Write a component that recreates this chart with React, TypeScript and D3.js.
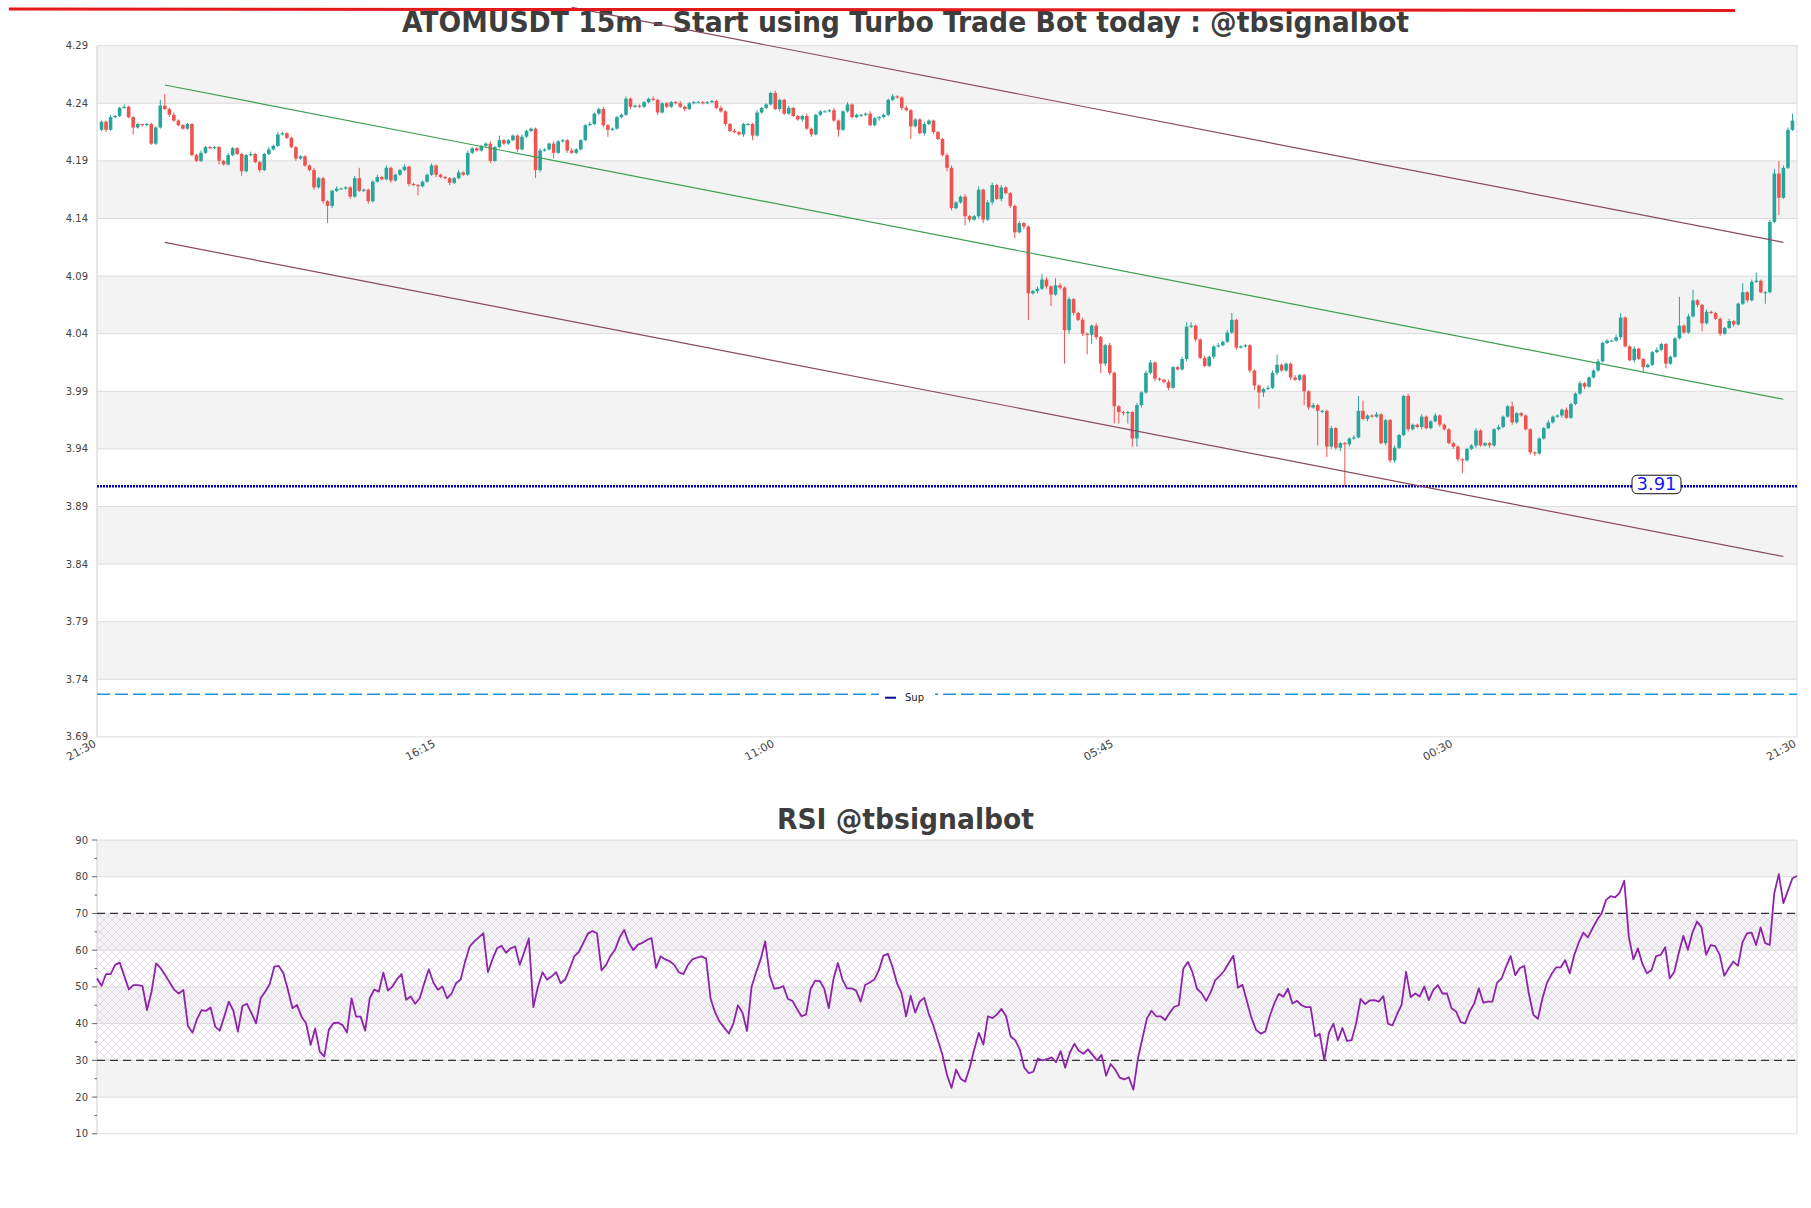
import React from "react";
import * as d3 from "d3";

// ---------- DATA ----------
const firstOpen = 4.217;
const closes = [
  4.224,4.217,4.228,4.229,4.236,4.237,4.228,4.219,4.222,4.221,4.222,4.205,4.219,4.238,4.235,4.230,4.225,4.221,4.218,4.222,4.195,4.190,4.197,4.202,4.201,
  4.202,4.190,4.187,4.195,4.201,4.196,4.181,4.195,4.196,4.189,4.182,4.196,4.200,4.203,4.213,4.214,4.210,4.202,4.192,4.194,4.186,4.182,4.167,4.175,4.155,
  4.151,4.164,4.166,4.166,4.167,4.159,4.175,4.164,4.165,4.155,4.172,4.176,4.174,4.184,4.173,4.178,4.182,4.185,4.170,4.169,4.168,4.172,4.178,4.186,4.178,
  4.176,4.175,4.171,4.175,4.180,4.178,4.197,4.201,4.199,4.203,4.205,4.190,4.202,4.208,4.205,4.208,4.212,4.200,4.211,4.216,4.218,4.182,4.199,4.200,4.205,
  4.197,4.207,4.208,4.199,4.197,4.200,4.208,4.221,4.222,4.231,4.235,4.221,4.217,4.218,4.228,4.230,4.244,4.237,4.238,4.237,4.241,4.244,4.243,4.232,4.240,
  4.237,4.241,4.240,4.237,4.235,4.240,4.241,4.241,4.240,4.241,4.242,4.236,4.233,4.222,4.216,4.215,4.213,4.222,4.222,4.212,4.232,4.236,4.239,4.249,4.235,
  4.243,4.231,4.236,4.229,4.226,4.229,4.218,4.213,4.230,4.233,4.233,4.234,4.225,4.217,4.233,4.239,4.228,4.230,4.230,4.231,4.221,4.227,4.228,4.230,4.243,
  4.246,4.245,4.236,4.234,4.220,4.226,4.214,4.222,4.225,4.215,4.209,4.195,4.184,4.149,4.154,4.159,4.142,4.139,4.142,4.165,4.139,4.154,4.169,4.157,4.167,
  4.162,4.151,4.128,4.136,4.133,4.075,4.077,4.079,4.087,4.081,4.074,4.082,4.080,4.043,4.070,4.058,4.052,4.040,4.039,4.047,4.037,4.014,4.030,4.006,3.977,
  3.972,3.971,3.972,3.949,3.978,3.989,4.006,4.015,4.001,4.000,3.998,3.993,4.011,4.009,4.018,4.046,4.047,4.035,4.019,4.012,4.020,4.029,4.030,4.033,4.041,
  4.052,4.028,4.029,4.030,4.008,3.995,3.989,3.992,3.993,4.006,4.013,4.008,4.014,4.002,4.000,4.004,3.990,3.976,3.978,3.973,3.973,3.942,3.958,3.941,3.945,
  3.944,3.949,3.950,3.973,3.966,3.969,3.968,3.970,3.945,3.965,3.930,3.941,3.952,3.986,3.957,3.961,3.959,3.968,3.958,3.964,3.969,3.961,3.957,3.945,3.942,
  3.931,3.930,3.940,3.943,3.956,3.943,3.945,3.943,3.957,3.959,3.968,3.977,3.963,3.971,3.969,3.957,3.937,3.936,3.949,3.958,3.963,3.968,3.969,3.974,3.967,
  3.979,3.988,3.997,3.994,4.002,4.008,4.016,4.032,4.034,4.034,4.037,4.054,4.029,4.017,4.027,4.018,4.011,4.013,4.024,4.026,4.031,4.014,4.020,4.036,4.047,
  4.041,4.055,4.069,4.065,4.049,4.059,4.058,4.053,4.040,4.045,4.051,4.048,4.066,4.076,4.069,4.085,4.086,4.076,4.076,4.137,4.179,4.158,4.184,4.217,4.225,
];
// wick lengths above / below the body, in thousandths of a dollar
const upperWicks = [
  1,1,2,1,1,2,1,1,1,0,1,1,1,5,10,1,2,1,1,1,1,1,2,1,1,
  1,1,1,2,1,1,1,1,2,1,1,1,2,1,2,1,1,1,1,1,1,1,2,1,1,
  1,1,2,1,1,1,2,9,1,1,1,2,1,2,1,1,1,2,1,1,1,1,1,2,1,
  1,1,1,1,2,1,2,1,1,1,1,2,1,4,1,1,1,1,2,1,1,1,2,1,1,
  2,1,1,1,2,1,1,1,2,1,1,2,1,1,1,1,2,1,1,1,1,1,2,1,1,
  1,1,1,2,1,1,1,1,1,1,1,1,2,1,1,2,1,1,1,1,2,1,1,1,2,
  1,1,2,1,1,1,2,1,1,1,1,1,2,1,1,2,1,1,1,1,2,1,1,1,1,
  2,1,1,2,1,1,1,2,1,1,1,1,2,2,1,1,2,1,1,3,1,2,2,1,2,
  1,1,1,2,1,1,1,2,5,2,1,6,2,1,2,1,1,2,1,1,2,1,1,2,1,
  1,1,1,1,2,1,2,2,1,1,1,2,1,1,2,4,3,1,1,2,1,1,2,1,2,
  6,1,1,1,1,1,1,1,2,2,9,1,1,1,2,1,1,1,2,1,1,1,2,1,1,
  1,1,2,13,9,1,1,2,1,1,1,2,1,1,2,1,1,2,1,1,2,1,1,1,1,
  1,1,1,1,2,1,1,1,1,2,1,1,4,1,1,1,1,1,1,1,2,1,1,1,2,
  1,1,2,1,1,1,2,1,1,1,2,4,1,1,2,1,1,1,1,2,1,1,1,1,25,
  1,2,9,1,1,2,1,1,1,1,2,1,1,8,1,2,7,1,1,2,4,11,2,2,6,
];
const lowerWicks = [
  1,2,1,1,1,1,1,6,1,1,1,1,1,1,1,2,1,1,1,1,1,1,1,1,1,
  1,3,1,1,1,1,4,1,1,1,2,1,1,1,1,1,1,1,2,1,1,1,2,1,2,
  15,2,1,1,1,2,1,1,1,2,1,1,1,1,2,1,1,1,2,1,8,1,1,1,2,
  1,1,2,1,1,1,1,1,1,1,1,2,1,1,1,1,1,2,1,1,1,7,2,1,1,
  5,1,1,2,1,1,1,1,1,1,1,2,6,1,1,1,1,2,1,1,1,1,1,2,1,
  1,1,1,1,2,1,1,1,1,1,1,1,1,2,1,1,1,2,1,4,1,1,1,1,1,
  2,1,1,1,1,2,1,2,1,1,1,1,1,6,1,1,1,1,2,1,1,1,2,1,1,
  1,1,2,1,11,1,1,2,1,2,1,1,3,2,1,1,8,2,1,2,3,1,2,1,2,
  1,2,5,1,2,23,1,2,1,2,10,1,2,29,3,2,1,2,17,8,2,8,2,2,15,
  10,2,9,7,7,2,1,1,2,1,1,2,1,1,1,2,1,2,1,1,1,2,1,1,1,
  1,2,1,1,2,4,14,4,1,1,2,1,1,2,1,1,12,2,1,30,2,9,2,2,3,
  37,2,1,1,1,2,1,1,1,2,2,2,1,1,2,1,1,2,1,1,1,2,1,1,2,
  2,11,1,1,2,1,1,2,1,1,1,1,2,1,1,1,2,2,1,1,1,1,1,2,1,
  1,1,1,2,1,1,1,1,1,1,1,2,1,1,2,1,4,1,1,1,1,4,1,1,1,
  1,1,1,2,7,1,1,1,2,1,1,2,1,1,2,1,1,1,10,1,1,15,1,1,1,
];
const rsiValues = [
  52.3,50.3,53.5,53.5,56,56.6,53,49.3,50.5,50.5,50.3,43.7,48.7,56.4,55.1,53.2,51.2,49.2,48.2,49.2,39.4,37.5,41.2,43.7,43.5,
  44.4,39.2,38.1,41.9,46,43.5,37.8,44.8,45.4,42.8,40.1,46.9,48.7,50.8,55.5,55.7,53.7,49.2,44.2,45.1,41.9,40.1,34.2,38.7,32.4,
  31,38.3,40.1,40.3,39.6,37.6,46.9,41.9,41.9,38.1,46.9,49.3,48.7,53.9,49,50.1,52.1,53.5,46.5,47.4,45.4,46.9,51,54.8,51.2,
  49.2,50.1,46.9,48.2,51,52,57,61,62.4,63.5,64.6,54,57.5,60.5,61.2,59.3,60.5,61,56,59.5,63.2,44.5,50,54,52,
  52.8,54,51,52,55,58.3,59.5,62,64.5,65.2,64.6,54.5,56,58.5,60.2,63.5,65.5,62,60,61.5,62,62.8,63.3,55.2,58.3,
  57.5,57,56,54,53.5,56,57.5,58,58.3,57.7,46.7,43,40.5,38.9,37.3,40,45,43,38,50,54,57.5,62.4,53,49.5,
  49.7,50.2,46.7,46.2,44,42,42.5,49.5,51.7,51.6,49.5,44.2,52,56.5,52,49.6,49.6,49,46,50.5,51.2,52,54.5,58.5,59,
  55.5,51,48.3,42,47.6,43,46,47,42.6,39.5,35.5,31.5,26,22.5,27.5,25,24.2,28,33,37.5,34.3,42,41.5,42.5,44,
  42,36.5,35.5,33,28,26.5,26.9,30.5,30,30.3,30.8,29.5,32.5,28,32,34.5,32.6,31.8,33,31.5,30,31.5,25.8,29,27.5,
  25.3,24.8,25.4,22,30.5,36,41.5,43.5,42,42,41,43,44.6,45,55,56.8,54,49.5,48.3,46.2,48.5,51.8,53,54.4,56.5,
  58.5,49.8,50.6,46,41.5,38.3,37.3,37.8,42,45.5,48.1,47.3,49.5,45.5,46.2,45,44.5,44.5,36.5,37.2,30,37.5,40,35.5,38.8,
  35.3,35.5,40,46.7,45.3,46.3,46.4,46,47.5,40,39.5,42.5,45.1,54.1,47.2,48.2,47.4,50.1,46.4,49.2,50.5,48.2,48.2,44.2,43.3,
  40.4,40.1,43.3,45.5,49.6,45.7,46,46,51.1,52.3,55.5,58.4,53.2,55.1,55.7,48.2,42.4,41.3,46.9,51.1,53.5,55.3,55.3,57.3,53.7,
  58.7,62.1,64.8,63.5,65.9,68.2,70,73.7,74.7,74.4,75.7,78.9,63.7,57.5,60.5,56.2,53.7,54.6,58.4,58.7,60.8,52.3,54.1,59.3,63.9,
  60.1,64.8,67.8,66.2,58.7,61.4,61.1,58.7,53,55.1,56.9,55.7,62.1,64.6,64.8,61.4,66.2,61.9,61.4,75.5,80.7,72.8,76.2,79.6,80.2,
];
const priceTicks = [3.69,3.74,3.79,3.84,3.89,3.94,3.99,4.04,4.09,4.14,4.19,4.24,4.29];
const rsiTicks = [10,20,30,40,50,60,70,80,90];
const rsiMinorTicks = [15,25,35,45,55,65,75,85];
const timeTickIndex = [-1,74,149,224,299,375];
const timeTickLabels = ["21:30","16:15","11:00","05:45","00:30","21:30"];
const supportLevel = 3.9076;
const supLevel = 3.727;
const rsiUpper = 70;
const rsiLower = 30;
// trend lines: [candle index, price]
const greenLine = [[14,4.2559],[372,3.9831]];
const upperChannel = [[104,4.3233],[372,4.1193]];
const lowerChannel = [[14,4.1192],[372,3.8466]];
const redLine = [[-20.5,4.3219],[361.3,4.3206]];

const TITLE = "ATOMUSDT 15m - Start using Turbo Trade Bot today : @tbsignalbot";
const RSI_TITLE = "RSI @tbsignalbot";

// ---------- LAYOUT ----------
const W = 1811, H = 1208;
const L = 97, R = 1797;
const MT = 45.7, MB = 736.9;
const RT = 840, RB = 1133.8;
const UP = "#26a69a", DOWN = "#ef5350";
const FONT = "'DejaVu Sans', sans-serif";

export default function App() {
  const xC = d3.scaleLinear().domain([-1, 375]).range([L, R]);
  const xR = d3.scaleLinear().domain([0, rsiValues.length - 1]).range([L, R]);
  const yP = d3.scaleLinear().domain([3.69, 4.29]).range([MB, MT]);
  const yR = d3.scaleLinear().domain([10, 90]).range([RB, RT]);

  const candles = closes.map((c, i) => {
    const o = i === 0 ? firstOpen : closes[i - 1];
    const h = Math.max(o, c) + upperWicks[i] / 1000;
    const l = Math.min(o, c) - lowerWicks[i] / 1000;
    return { i, o, c, h, l };
  });

  const rsiLine = d3.line<number>().x((_, i) => xR(i)).y((d) => yR(d))(rsiValues) || "";
  const tl = (pts: number[][]) =>
    d3.line<number[]>().x((p) => xC(p[0])).y((p) => yP(p[1]))(pts) || "";

  const bodyW = 3.6;

  return (
    <svg width={W} height={H} style={{ position: "absolute", left: 0, top: 0, background: "#fff" }}
      fontFamily={FONT}>
      <defs>
        <pattern id="hatch" patternUnits="userSpaceOnUse" width="8" height="8">
          <path d="M0,0 L8,8 M8,0 L0,8" stroke="#d6c6df" strokeWidth="0.6" fill="none" />
        </pattern>
      </defs>
      <rect x={0} y={0} width={W} height={H} fill="#fff" />

      {/* ===== MAIN CHART ===== */}
      {priceTicks.slice(0, -1).map((p, j) => (
        <rect key={"pb" + j} x={L} width={R - L} y={yP(priceTicks[j + 1])}
          height={yP(p) - yP(priceTicks[j + 1])} fill={j % 2 === 1 ? "#f3f3f3" : "#fff"} />
      ))}
      {priceTicks.map((p) => (
        <line key={"pg" + p} x1={L} x2={R} y1={yP(p)} y2={yP(p)} stroke="#dcdcdc" strokeWidth={1} />
      ))}
      <line x1={L} x2={L} y1={MT} y2={MB} stroke="#cfcfcf" />
      <line x1={R} x2={R} y1={MT} y2={MB} stroke="#dcdcdc" />
      {priceTicks.map((p) => (
        <text key={"pl" + p} x={88} y={yP(p)} dy="0.35em" textAnchor="end" fontSize={10} fill="#444">
          {p.toFixed(2)}
        </text>
      ))}
      {timeTickIndex.map((t, k) => (
        <text key={"tl" + k} x={xC(t)} y={746} textAnchor="end" fontSize={11} fill="#444"
          transform={`rotate(-28,${xC(t)},746)`}>
          {timeTickLabels[k]}
        </text>
      ))}

      {/* sup dashed line */}
      <line x1={L} x2={R} y1={yP(supLevel)} y2={yP(supLevel)} stroke="#1b95dc" strokeWidth={1.4}
        strokeDasharray="13,5" />

      {/* candles */}
      {candles.map((d) => {
        const col = d.c >= d.o ? UP : DOWN;
        const x = xC(d.i);
        const yTop = yP(Math.max(d.o, d.c));
        const hB = Math.max(1, Math.abs(yP(d.o) - yP(d.c)));
        return (
          <g key={"c" + d.i}>
            <line x1={x} x2={x} y1={yP(d.h)} y2={yP(d.l)} stroke={col} strokeWidth={1} />
            <rect x={x - bodyW / 2} y={yTop} width={bodyW} height={hB} fill={col} />
          </g>
        );
      })}

      {/* support level */}
      <line x1={L} x2={R} y1={yP(supportLevel)} y2={yP(supportLevel)} stroke="#0000c0"
        strokeWidth={2.6} strokeDasharray="2,1" />
      <rect x={1632} y={yP(supportLevel) - 11} width={49} height={18.5} rx={5} fill="#fff"
        stroke="#111" strokeWidth={1} />
      <text x={1656.5} y={yP(supportLevel) + 4} textAnchor="middle" fontSize={18} fill="#1a1aff">
        {supportLevel.toFixed(2)}
      </text>

      {/* legend */}
      <rect x={879} y={688} width={56} height={18} fill="#fff" />
      <line x1={885} x2={896} y1={697.7} y2={697.7} stroke="#0a0a9a" strokeWidth={2} />
      <text x={905} y={701} fontSize={10} fill="#222">Sup</text>

      {/* titles */}
      <text x={905.5} y={32} textAnchor="middle" fontSize={28} fontWeight="bold" fill="#3d3d3d"
        fontFamily="'DejaVu Sans Condensed', 'DejaVu Sans', sans-serif" textLength={1007}
        lengthAdjust="spacingAndGlyphs">
        {TITLE}
      </text>

      {/* trend lines */}
      <path d={tl(greenLine)} stroke="#3c9f50" strokeWidth={1.2} fill="none" />
      <path d={tl(upperChannel)} stroke="#8a4a5e" strokeWidth={1.2} fill="none" />
      <path d={tl(lowerChannel)} stroke="#8a4a5e" strokeWidth={1.2} fill="none" />
      <path d={tl(redLine)} stroke="#e3191c" strokeWidth={3} fill="none" />

      {/* ===== RSI CHART ===== */}
      {rsiTicks.slice(0, -1).map((v, j) => (
        <rect key={"rb" + j} x={L} width={R - L} y={yR(rsiTicks[j + 1])}
          height={yR(v) - yR(rsiTicks[j + 1])} fill={j % 2 === 1 ? "#f3f3f3" : "#fff"} />
      ))}
      <rect x={L} width={R - L} y={yR(rsiUpper)} height={yR(rsiLower) - yR(rsiUpper)} fill="url(#hatch)" />
      {rsiTicks.map((v) => (
        <line key={"rg" + v} x1={L} x2={R} y1={yR(v)} y2={yR(v)} stroke="#dcdcdc" strokeWidth={1} />
      ))}
      <line x1={L} x2={L} y1={RT} y2={RB} stroke="#cfcfcf" />
      <line x1={R} x2={R} y1={RT} y2={RB} stroke="#dcdcdc" />
      {rsiTicks.map((v) => (
        <g key={"rt" + v}>
          <line x1={92} x2={L} y1={yR(v)} y2={yR(v)} stroke="#666" />
          <text x={88} y={yR(v)} dy="0.35em" textAnchor="end" fontSize={10} fill="#444">{v}</text>
        </g>
      ))}
      {rsiMinorTicks.map((v) => (
        <line key={"rm" + v} x1={94.5} x2={L} y1={yR(v)} y2={yR(v)} stroke="#666" />
      ))}
      {[rsiUpper, rsiLower].map((v) => (
        <line key={"rd" + v} x1={L} x2={R} y1={yR(v)} y2={yR(v)} stroke="#333" strokeWidth={1.3}
          strokeDasharray="8,5" />
      ))}
      <path d={rsiLine} stroke="#8e24aa" strokeWidth={1.8} fill="none" strokeLinejoin="round" />
      <text x={905.5} y={829} textAnchor="middle" fontSize={28} fontWeight="bold" fill="#3d3d3d"
        fontFamily="'DejaVu Sans Condensed', 'DejaVu Sans', sans-serif" textLength={257}
        lengthAdjust="spacingAndGlyphs">
        {RSI_TITLE}
      </text>
    </svg>
  );
}
